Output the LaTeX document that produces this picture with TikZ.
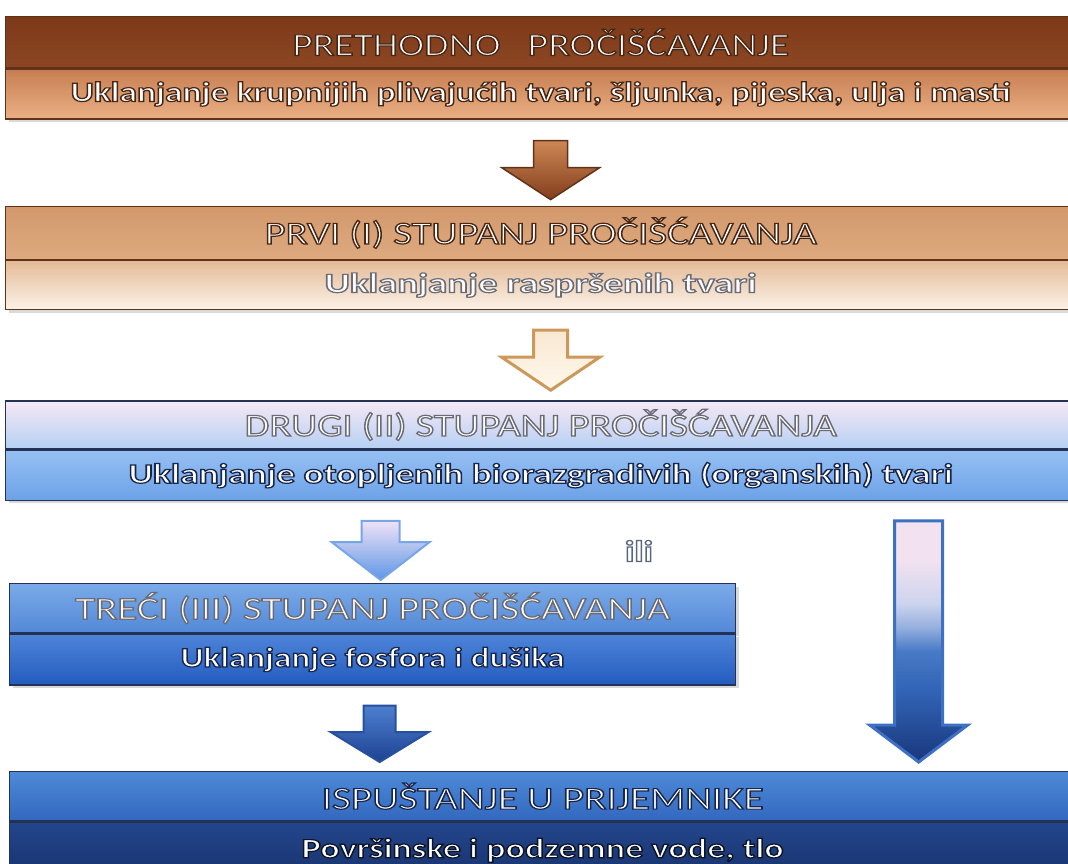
\documentclass[tikz,border=0pt]{standalone}
\usepackage{fontspec}
\setmainfont{Carlito}
\usetikzlibrary{positioning, calc, shadows}

\definecolor{brline}{RGB}{95,50,25}
\definecolor{brtop}{RGB}{125,58,25}
\definecolor{brmid}{RGB}{178,98,55}
\definecolor{brbot}{RGB}{140,70,35}
\definecolor{brlowtop}{RGB}{198,126,82}
\definecolor{brlowbot}{RGB}{234,176,132}
\definecolor{tantop}{RGB}{210,152,108}
\definecolor{tanbot}{RGB}{222,170,128}
\definecolor{tanlowtop}{RGB}{228,186,150}
\definecolor{tanlowbot}{RGB}{252,242,232}
\definecolor{blline}{RGB}{35,50,85}
\definecolor{dgtop}{RGB}{246,232,244}
\definecolor{dgbot}{RGB}{182,208,244}
\definecolor{dglowtop}{RGB}{150,192,242}
\definecolor{dglowbot}{RGB}{108,162,232}
\definecolor{trtop}{RGB}{122,170,232}
\definecolor{trbot}{RGB}{82,136,215}
\definecolor{trlowtop}{RGB}{78,132,216}
\definecolor{trlowbot}{RGB}{35,92,192}
\definecolor{istop}{RGB}{78,138,216}
\definecolor{isbot}{RGB}{50,104,190}
\definecolor{islowtop}{RGB}{35,70,140}
\definecolor{islowbot}{RGB}{15,35,85}
\definecolor{ta1}{RGB}{25,55,125}
\definecolor{ta2}{RGB}{50,100,182}
\definecolor{ta3}{RGB}{72,122,198}
\definecolor{ta4}{RGB}{150,176,222}
\definecolor{ta5}{RGB}{205,212,238}
\definecolor{ta6}{RGB}{242,226,240}

% shading of the long arrow (path box = 25bp..75bp)
\pgfdeclareverticalshading{tallarrow}{100bp}{color(0bp)=(ta1); color(25bp)=(ta1);
  color(40bp)=(ta2); color(48bp)=(ta3); color(53bp)=(ta4); color(58bp)=(ta5);
  color(67bp)=(ta6); color(100bp)=(ta6)}

% stroke colours for outlined text (pdf rgb)
\def\olbrown{0.28 0.15 0.08}
\def\olgray{0.42 0.42 0.46}
\def\olblue{0.10 0.15 0.30}

% white text with a coloured outline, stretched to a given width
\newcommand{\oltxt}[3]{\resizebox{#2}{\height}{%
  \special{pdf:literal direct 2 Tr 1.2 w #1 RG}#3\special{pdf:literal direct 0 Tr}}}

% block arrow: [style]{from}{to}{shaft half width}{head half width}{head length}
\newcommand{\blockarrow}[6][]{%
  \path[#1] let \p1=(#2), \p2=(#3) in
    (\x1-#4,\y1) -- (\x1+#4,\y1) -- (\x1+#4,\y2+#6) -- (\x1+#5,\y2+#6)
    -- (\x1,\y2) -- (\x1-#5,\y2+#6) -- (\x1-#4,\y2+#6) -- cycle;}

\begin{document}
\begin{tikzpicture}[
  x=1pt, y=1pt,
  band/.style={rectangle, draw=#1, line width=1.3pt, inner sep=0pt, text=white,
    drop shadow={shadow xshift=3pt, shadow yshift=-3pt, opacity=0.3}},
  head/.style={font=\fontsize{32}{36}\selectfont},
  body/.style={font=\fontsize{28}{32}\selectfont\bfseries},
  arrow/.style={line width=#1, line join=miter}
]
\useasboundingbox (0,0) rectangle (1068,-863);

% stage boxes
\node[band=brline, head, anchor=north west, minimum width=1070pt, minimum height=51pt,
  top color=brtop, middle color=brmid, bottom color=brbot] (pre) at (5,-16)
  {\oltxt{\olbrown}{497pt}{PRETHODNO\ \ \ PROČIŠĆAVANJE}};
\node[band=brline, body, minimum width=1070pt, minimum height=50pt, below=0pt of pre,
  top color=brlowtop, bottom color=brlowbot] (preb)
  {\oltxt{\olbrown}{940pt}{Uklanjanje krupnijih plivajućih tvari, šljunka, pijeska, ulja i masti}};

\node[band=brline, head, minimum width=1070pt, minimum height=53pt, below=86pt of preb,
  top color=tantop, bottom color=tanbot] (prvi)
  {\oltxt{\olbrown}{552pt}{PRVI (I) STUPANJ PROČIŠĆAVANJA}};
\node[band=brline, body, minimum width=1070pt, minimum height=49pt, below=0pt of prvi,
  top color=tanlowtop, bottom color=tanlowbot] (prvib)
  {\oltxt{\olgray}{432pt}{Uklanjanje raspršenih tvari}};

\node[band=blline, head, minimum width=1070pt, minimum height=48pt, below=90pt of prvib,
  top color=dgtop, bottom color=dgbot] (drugi)
  {\oltxt{\olgray}{592pt}{DRUGI (II) STUPANJ PROČIŠĆAVANJA}};
\node[band=blline, body, minimum width=1070pt, minimum height=50pt, below=0pt of drugi,
  top color=dglowtop, bottom color=dglowbot] (drugib)
  {\oltxt{\olblue}{824pt}{Uklanjanje otopljenih biorazgradivih (organskih) tvari}};

\node[band=blline, head, anchor=north west, minimum width=726pt, minimum height=49pt,
  top color=trtop, bottom color=trbot] (treci) at (9,-583)
  {\oltxt{\olgray}{595pt}{TREĆI (III) STUPANJ PROČIŠĆAVANJA}};
\node[band=blline, body, minimum width=726pt, minimum height=51pt, below=0pt of treci,
  top color=trlowtop, bottom color=trlowbot] (trecib)
  {\oltxt{\olblue}{384pt}{Uklanjanje fosfora i dušika}};

\node[band=blline, head, anchor=north west, minimum width=1066pt, minimum height=49pt,
  top color=istop, bottom color=isbot] (isp) at (9,-771)
  {\oltxt{\olblue}{442pt}{ISPUŠTANJE U PRIJEMNIKE}};
\node[band=blline, body, minimum width=1066pt, minimum height=100pt, below=0pt of isp,
  top color=islowtop, bottom color=islowbot, text depth=48pt] (ispb)
  {\oltxt{0.05 0.08 0.15}{482pt}{Površinske i podzemne vode, tlo}};

\node[font=\fontsize{30}{30}\selectfont\bfseries, text=white] (ili) at (639,-551)
  {\oltxt{0.35 0.40 0.50}{28pt}{ili}};

% block arrows between stages
\blockarrow[arrow=1.5pt, draw=brline, top color={rgb,255:red,205;green,135;blue,85},
  bottom color={rgb,255:red,130;green,62;blue,28}]
  {$(preb.south)+(10,-21)$}{$(prvi.north)+(10,6)$}{17pt}{49pt}{32pt}
\blockarrow[arrow=3pt, draw={rgb,255:red,205;green,152;blue,92},
  top color={rgb,255:red,248;green,232;blue,210}, bottom color={rgb,255:red,255;green,248;blue,236}]
  {$(prvib.south)+(10,-20)$}{$(drugi.north)+(10,10)$}{17pt}{49pt}{33pt}
\blockarrow[arrow=2pt, draw={rgb,255:red,120;green,165;blue,230},
  top color={rgb,255:red,238;green,226;blue,246}, bottom color={rgb,255:red,95;green,150;blue,230}]
  {$(drugib.south -| treci.north)+(8,-20)$}{$(treci.north)+(8,3)$}{19pt}{49pt}{38pt}
\blockarrow[arrow=2pt, draw={rgb,255:red,40;green,80;blue,160},
  top color={rgb,255:red,78;green,128;blue,208}, bottom color={rgb,255:red,28;green,66;blue,145}]
  {$(trecib.south)+(7,-20)$}{$(isp.north -| trecib.south)+(7,9)$}{16pt}{49pt}{30pt}
\blockarrow[arrow=3pt, draw={rgb,255:red,62;green,112;blue,195}, shading=tallarrow]
  {$(drugib.south)+(378,-20)$}{$(isp.north -| drugib.south)+(378,9)$}{24pt}{49pt}{37pt}

\end{tikzpicture}
\end{document}
